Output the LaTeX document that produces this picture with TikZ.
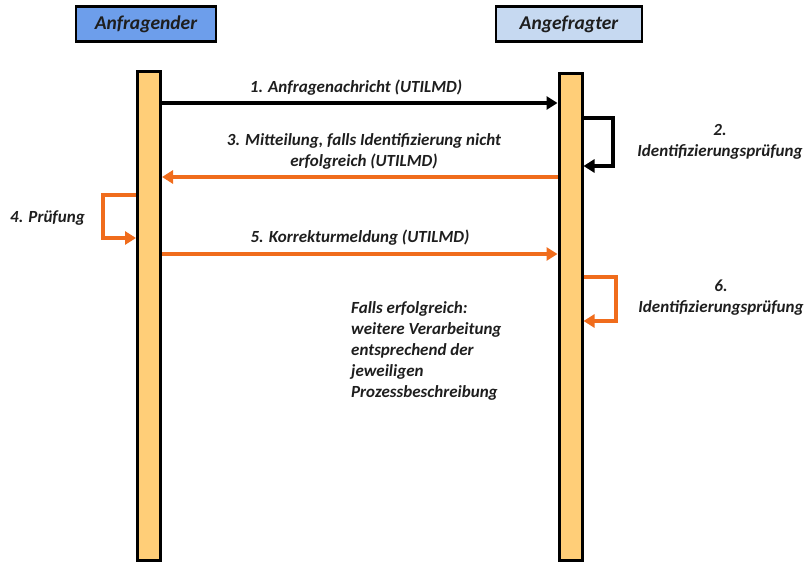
\documentclass[tikz,border=0pt]{standalone}
\usepackage{fontspec}
\setmainfont{Carlito}
\usetikzlibrary{arrows.meta}
\definecolor{hdrA}{RGB}{109,158,235}
\definecolor{hdrB}{RGB}{198,217,241}
\definecolor{barfill}{RGB}{255,206,120}
\definecolor{orng}{RGB}{240,108,28}
\definecolor{txt}{RGB}{30,30,30}
\tikzset{
  header/.style={draw=black, line width=2.5pt, inner sep=0pt, outer sep=0pt,
    minimum height=35pt, font=\fontsize{19.5}{22}\selectfont\bfseries\itshape, text=txt},
  lifebar/.style={draw=black, fill=barfill, line width=3pt, inner sep=0pt, minimum width=23pt},
  msgblack/.style={line width=3.5pt, draw=black, -{Triangle[length=11pt,width=13pt]}},
  msgorange/.style={line width=3.5pt, draw=orng, -{Triangle[length=11pt,width=13pt]}},
  lbl/.style={font=\fontsize{17}{19}\selectfont\bfseries\itshape, text=txt, inner sep=0pt, align=center},
}
\begin{document}
\begin{tikzpicture}[x=1pt,y=-1pt]
\useasboundingbox (0,0) rectangle (805,564);
% headers
\node[header, fill=hdrA, minimum width=140pt] (hA) at (146,24) {Anfragender};
\node[header, fill=hdrB, minimum width=146pt] (hB) at (569,24) {Angefragter};
% lifelines
\node[lifebar, minimum height=489pt] (barL) at (149,316) {};
\node[lifebar, minimum height=487pt] (barR) at (570.5,317) {};
% y levels
\coordinate (y1) at (0,103);
\coordinate (y2a) at (0,118);
\coordinate (y2b) at (0,166);
\coordinate (x2) at (613,0);
\coordinate (y3) at (0,177);
\coordinate (y4a) at (0,195);
\coordinate (y4b) at (0,238);
\coordinate (x4) at (103,0);
\coordinate (y5) at (0,254);
\coordinate (y6a) at (0,277);
\coordinate (y6b) at (0,321);
\coordinate (x6) at (616,0);
% 1
\draw[msgblack] (barL.east |- y1) -- (barR.west |- y1);
\node[lbl] (t1) at (356,88) {1. Anfragenachricht (UTILMD)};
% 2
\draw[msgblack] (barR.east |- y2a) -- (x2 |- y2a) -- (x2 |- y2b) -- (barR.east |- y2b);
\node[lbl] (t2) at (720,142) {2.\\[2pt]Identifizierungsprüfung};
% 3
\draw[msgorange] (barR.west |- y3) -- (barL.east |- y3);
\node[lbl] (t3) at (364,151) {3. Mitteilung, falls Identifizierung nicht\\[2pt]erfolgreich (UTILMD)};
% 4
\draw[msgorange] (barL.west |- y4a) -- (x4 |- y4a) -- (x4 |- y4b) -- (barL.west |- y4b);
\node[lbl, anchor=west] (t4) at (10,218) {4. Prüfung};
% 5
\draw[msgorange] (barL.east |- y5) -- (barR.west |- y5);
\node[lbl] (t5) at (360,238) {5. Korrekturmeldung (UTILMD)};
% 6
\draw[msgorange] (barR.east |- y6a) -- (x6 |- y6a) -- (x6 |- y6b) -- (barR.east |- y6b);
\node[lbl] (t6) at (721,298) {6.\\[2pt]Identifizierungsprüfung};
% note
\node[lbl, align=left, anchor=north west, font=\fontsize{17}{21}\selectfont\bfseries\itshape] (note) at (351,301)
  {Falls erfolgreich:\\weitere Verarbeitung\\entsprechend der\\jeweiligen\\Prozessbeschreibung};
\end{tikzpicture}
\end{document}
